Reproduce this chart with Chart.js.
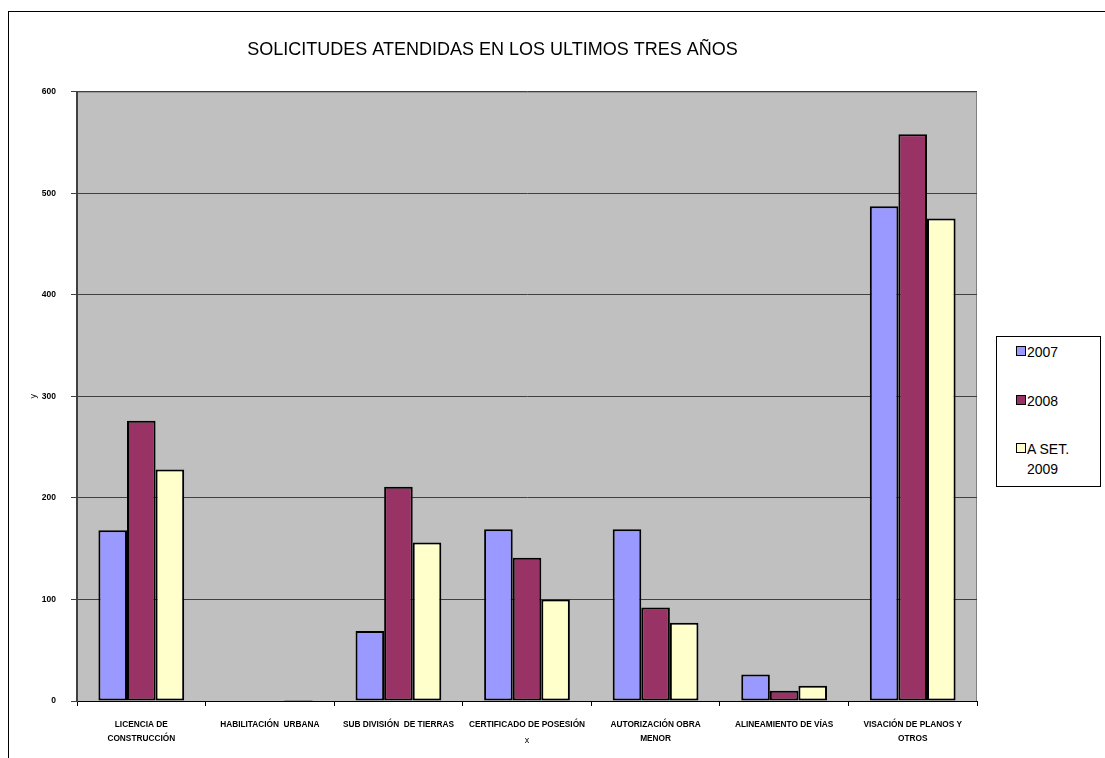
<!DOCTYPE html>
<html>
<head>
<meta charset="utf-8">
<script src="https://cdn.jsdelivr.net/npm/chart.js@4/dist/chart.umd.min.js"></script>
<style>
    body { margin: 0; background: #fff; font-family: 'Liberation Sans', Arial, sans-serif; overflow: hidden; }
    #frame { position: absolute; left: 8px; top: 11px; width: 1120px; height: 780px; border: 1px solid #000; }
    #chartWrap { position: absolute; left: 8px; top: 11px; width: 974px; height: 747px; }
    #legend { position: absolute; left: 996px; top: 336px; width: 103px; height: 149px; border: 1px solid #000; background: #fff; }
    #legend .item { position: absolute; left: 19px; font-size: 14px; line-height: 20px; color: #000; }
    #legend .swatch { display: inline-block; width: 8px; height: 8px; border: 1px solid #000; margin-right: 1px; vertical-align: 1px; }
</style>
</head>
<body>
<div id="frame"></div>
<div id="chartWrap"><canvas id="barChart" width="974" height="747"></canvas></div>
<div id="legend"></div>
<script>
const categories = [
    ['LICENCIA DE', 'CONSTRUCCIÓN'],
    'HABILITACIÓN  URBANA',
    'SUB DIVISIÓN  DE TIERRAS',
    'CERTIFICADO DE POSESIÓN',
    ['AUTORIZACIÓN OBRA', 'MENOR'],
    'ALINEAMIENTO DE VÍAS',
    ['VISACIÓN DE PLANOS Y', 'OTROS']
];
const seriesNames = ['2007', '2008', ['A SET.', '2009']];
const values2007 = [168, 0, 69, 169, 169, 26, 487];
const values2008 = [276, 0, 211, 141, 92, 10, 558];
const valuesSet2009 = [228, 1, 156, 100, 77, 15, 475];
const yTicks = [0, 100, 200, 300, 400, 500, 600];

(() => {
    const colors = ['#9999FF', '#993366', '#FFFFCC'];
    const seriesValues = [values2007, values2008, valuesSet2009];
    const fontFamily = "'Liberation Sans', Arial, sans-serif";

    const plotBackground = {
        id: 'plotBackground',
        beforeDraw(chart) {
            const { ctx, chartArea: a } = chart;
            ctx.save();
            ctx.fillStyle = '#C0C0C0';
            ctx.fillRect(a.left, a.top, a.right - a.left, a.bottom - a.top);
            ctx.strokeStyle = '#808080';
            ctx.lineWidth = 1;
            ctx.strokeRect(a.left + 0.5, a.top + 0.5, a.right - a.left - 1, a.bottom - a.top);
            ctx.restore();
        }
    };

    const ctx = document.getElementById('barChart');
    new Chart(ctx, {
        type: 'bar',
        data: {
            labels: categories,
            datasets: seriesValues.map((data, i) => ({
                label: Array.isArray(seriesNames[i]) ? seriesNames[i].join(' ') : seriesNames[i],
                data,
                backgroundColor: colors[i],
                borderColor: '#000',
                borderWidth: 2,
                borderSkipped: false,
                categoryPercentage: 0.667,
                barPercentage: 1
            }))
        },
        options: {
            responsive: false,
            animation: false,
            layout: { padding: { left: 0, right: 5, top: 0, bottom: 0 } },
            plugins: {
                legend: { display: false },
                tooltip: { enabled: false },
                title: {
                    display: true,
                    text: 'SOLICITUDES ATENDIDAS EN LOS ULTIMOS TRES AÑOS',
                    color: '#000',
                    font: { family: fontFamily, size: 18, weight: 'normal' },
                    padding: { top: 28, bottom: 31 }
                }
            },
            scales: {
                x: {
                    offset: true,
                    grid: { offset: true, drawOnChartArea: false, color: '#000', tickLength: 5 },
                    border: { color: '#000', width: 1 },
                    ticks: {
                        color: '#000',
                        maxRotation: 0,
                        autoSkip: false,
                        padding: 12,
                        font: { family: fontFamily, size: 8.3, weight: 'bold', lineHeight: 1.65 }
                    },
                    title: {
                        display: true,
                        text: 'x',
                        color: '#000',
                        font: { family: fontFamily, size: 9 },
                        padding: { top: 0, bottom: 12 }
                    },
                    afterFit(scale) { scale.height = 57; }
                },
                y: {
                    min: 0,
                    max: 600,
                    afterBuildTicks(scale) { scale.ticks = yTicks.map((v) => ({ value: v })); },
                    grid: { color: '#404040', tickLength: 6, lineWidth: 1 },
                    border: { color: '#404040', width: 2 },
                    ticks: {
                        color: '#000',
                        padding: 15,
                        font: { family: fontFamily, size: 8.5, weight: 'bold' }
                    },
                    title: {
                        display: true,
                        text: 'y',
                        color: '#000',
                        font: { family: fontFamily, size: 9 },
                        padding: { top: 20, bottom: 0 }
                    },
                    afterFit(scale) { scale.width = 69; }
                }
            }
        },
        plugins: [plotBackground]
    });

    // legend boxed on the right, like the spreadsheet one
    const legend = document.getElementById('legend');
    const tops = [5, 54, 102];
    seriesNames.forEach((name, i) => {
        const item = document.createElement('div');
        item.className = 'item';
        item.style.top = `${tops[i]}px`;
        const lines = Array.isArray(name) ? name : [name];
        item.innerHTML = `<span class="swatch" style="background:${colors[i]}"></span>${lines[0]}` +
            lines.slice(1).map((l) => `<br><span style="padding-left:11px">${l}</span>`).join('');
        legend.appendChild(item);
    });
})();
</script>
</body>
</html>
